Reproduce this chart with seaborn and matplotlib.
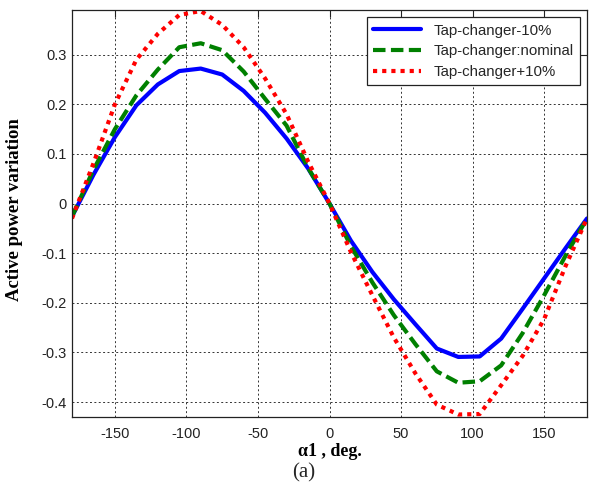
import matplotlib
matplotlib.use("Agg")
import matplotlib.pyplot as plt
import seaborn as sns

# ---- data ----
alpha = [-180, -165, -150, -135, -120, -105, -90, -75, -60, -45, -30, -15, 0,
         15, 30, 45, 60, 75, 90, 105, 120, 135, 150, 165, 180]
p_minus10 = [-0.026, 0.058, 0.134, 0.198, 0.240, 0.267, 0.272, 0.260, 0.227, 0.183,
             0.131, 0.071, 0.0, -0.075, -0.138, -0.193, -0.243, -0.292, -0.309,
             -0.308, -0.272, -0.212, -0.151, -0.090, -0.030]
p_nominal = [-0.026, 0.068, 0.150, 0.218, 0.270, 0.315, 0.323, 0.309, 0.266, 0.211,
             0.157, 0.072, 0.0, -0.086, -0.159, -0.225, -0.283, -0.338, -0.361,
             -0.358, -0.326, -0.261, -0.185, -0.105, -0.030]
p_plus10 = [-0.030, 0.081, 0.200, 0.290, 0.342, 0.380, 0.388, 0.360, 0.315, 0.252,
            0.180, 0.085, 0.0, -0.098, -0.185, -0.270, -0.342, -0.405, -0.425,
            -0.424, -0.366, -0.307, -0.233, -0.126, -0.030]
series_labels = ["Tap-changer-10%", "Tap-changer:nominal", "Tap-changer+10%"]
x_ticks = [-150, -100, -50, 0, 50, 100, 150]
y_ticks = [-0.4, -0.3, -0.2, -0.1, 0, 0.1, 0.2, 0.3]
y_ticklabels = ["-0.4", "-0.3", "-0.2", "-0.1", "0", "0.1", "0.2", "0.3"]

sns.set_theme(style="white")
plt.rcParams["font.family"] = ["Liberation Sans", "DejaVu Sans"]
plt.rcParams["axes.unicode_minus"] = False

fig = plt.figure(figsize=(5.92, 4.90), dpi=100)
ax = fig.add_axes([72 / 592, 1 - 417 / 490, 515 / 592, 407 / 490])

styles = [
    dict(color="#0000FF", linestyle="-"),
    dict(color="#008000", linestyle=(0, (3.0, 1.3))),
    dict(color="#FF0000", linestyle=(0, (1.0, 1.2))),
]
for ys, lab, st in zip([p_minus10, p_nominal, p_plus10], series_labels, styles):
    sns.lineplot(x=alpha, y=ys, ax=ax, label=lab, linewidth=3,
                 color=st["color"], linestyle=st["linestyle"])

ax.set_xlim(-180, 180)
ax.set_ylim(-0.43, 0.39)
ax.set_xticks(x_ticks)
ax.set_xticklabels([str(v) for v in x_ticks])
ax.set_yticks(y_ticks)
ax.set_yticklabels(y_ticklabels)

ax.grid(True, color="#333333", linestyle=(0, (2, 2.5)), linewidth=0.7)
ax.tick_params(direction="in", length=5, width=0.8, top=True, right=True,
               labelsize=10.5, colors="#222222", pad=4)
ax.tick_params(axis="x", pad=7)
for sp in ax.spines.values():
    sp.set_color("#222222")
    sp.set_linewidth(0.9)

serif = ["Liberation Serif", "DejaVu Serif"]
ax.set_ylabel("Active power variation", family=serif, fontweight="bold",
              fontsize=13.5, color="black")
ax.yaxis.set_label_coords(-0.095, 0.51)
ax.set_xlabel("α1 , deg.", family=serif, fontweight="bold", fontsize=13,
              color="black")
ax.xaxis.set_label_coords(0.5, -0.085)
ax.xaxis.label.set_va("center")
fig.text(304 / 592, 1 - 473 / 490, "(a)", family=serif, fontsize=15,
         ha="center", va="center")

leg = ax.legend(loc="upper right", fontsize=10.8, handlelength=3.2,
                fancybox=False, framealpha=1, edgecolor="#222222",
                borderaxespad=0.5, labelspacing=0.45)
leg.get_frame().set_linewidth(0.9)

fig.savefig("out.png", dpi=100)
